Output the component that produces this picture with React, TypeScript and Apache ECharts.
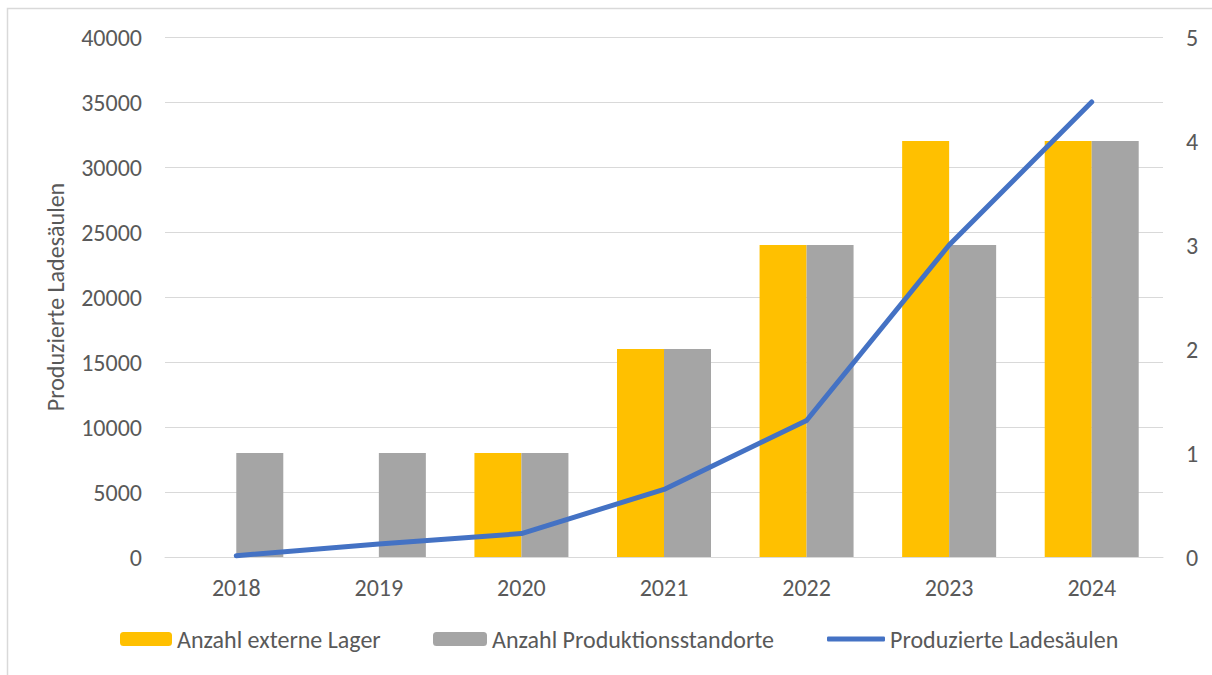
import React, { useEffect, useRef } from "react";
import * as echarts from "echarts";

const years = ["2018", "2019", "2020", "2021", "2022", "2023", "2024"];
const externeLager = [0, 0, 1, 2, 3, 4, 4];
const produktionsstandorte = [1, 1, 1, 2, 3, 3, 4];
const ladesaeulen = [100, 1000, 1800, 5200, 10500, 24000, 35000];
const leftTicks = { min: 0, max: 40000, interval: 5000 };
const rightTicks = { min: 0, max: 5, interval: 1 };

const FONT = "Carlito, 'Liberation Sans', Arial, sans-serif";
const TXT = "#595959";
const GRID = "#D9D9D9";
const FS = 24;

export default function App() {
  const ref = useRef<HTMLDivElement>(null);
  useEffect(() => {
    const chart = echarts.init(ref.current!, null, { renderer: "svg" });
    const legendText = { fontFamily: FONT, fontSize: FS, color: TXT };
    chart.setOption({
      animation: false,
      backgroundColor: "#ffffff",
      textStyle: { fontFamily: FONT },
      grid: { left: 165, right: 49, top: 37, bottom: 118, containLabel: false },
      graphic: [
        {
          type: "polyline",
          shape: { points: [[7.5, 675], [7.5, 8.5], [1212, 8.5]] },
          style: { stroke: "#D9D9D9", lineWidth: 1.5, fill: "none" },
          silent: true,
        },
      ],
      legend: [
        {
          data: ["Anzahl externe Lager"],
          left: 120,
          top: 627,
          padding: 0,
          itemWidth: 52,
          itemHeight: 14,
          textStyle: legendText,
          selectedMode: false,
        },
        {
          data: ["Anzahl Produktionsstandorte"],
          left: 433,
          top: 627,
          padding: 0,
          itemWidth: 54,
          itemHeight: 14,
          textStyle: legendText,
          selectedMode: false,
        },
        {
          data: [{ name: "Produzierte Ladesäulen", icon: "roundRect" }],
          left: 827,
          top: 627,
          padding: 0,
          itemWidth: 58,
          itemHeight: 5,
          textStyle: legendText,
          selectedMode: false,
        },
      ],
      xAxis: {
        type: "category",
        data: years,
        axisLine: { show: true, lineStyle: { color: GRID, width: 1 } },
        axisTick: { show: false },
        axisLabel: { color: TXT, fontSize: FS, fontFamily: FONT, margin: 18 },
      },
      yAxis: [
        {
          type: "value",
          min: leftTicks.min,
          max: leftTicks.max,
          interval: leftTicks.interval,
          name: "Produzierte Ladesäulen",
          nameLocation: "middle",
          nameGap: 98,
          nameRotate: 90,
          nameTextStyle: { color: TXT, fontSize: FS, fontFamily: FONT },
          axisLine: { show: false },
          axisTick: { show: false },
          axisLabel: {
            color: TXT,
            fontSize: FS,
            fontFamily: FONT,
            margin: 23,
            formatter: (v: number) => String(v),
          },
          splitLine: { lineStyle: { color: GRID, width: 1 } },
        },
        {
          type: "value",
          position: "right",
          min: rightTicks.min,
          max: rightTicks.max,
          interval: rightTicks.interval,
          axisLine: { show: false },
          axisTick: { show: false },
          axisLabel: { color: TXT, fontSize: FS, fontFamily: FONT, margin: 23 },
          splitLine: { show: false },
        },
      ],
      series: [
        {
          name: "Anzahl externe Lager",
          type: "bar",
          yAxisIndex: 1,
          data: externeLager,
          barWidth: 47,
          barGap: "0%",
          itemStyle: { color: "#FFC000" },
          z: 2,
        },
        {
          name: "Anzahl Produktionsstandorte",
          type: "bar",
          yAxisIndex: 1,
          data: produktionsstandorte,
          barWidth: 47,
          barGap: "0%",
          itemStyle: { color: "#A5A5A5" },
          z: 2,
        },
        {
          name: "Produzierte Ladesäulen",
          type: "line",
          yAxisIndex: 0,
          data: ladesaeulen,
          symbol: "none",
          lineStyle: { color: "#4472C4", width: 5, cap: "round", join: "round" },
          itemStyle: { color: "#4472C4" },
          z: 5,
        },
      ],
    });
    return () => chart.dispose();
  }, []);
  return (
    <div
      ref={ref}
      style={{ position: "fixed", left: 0, top: 0, width: 1212, height: 675 }}
    />
  );
}
